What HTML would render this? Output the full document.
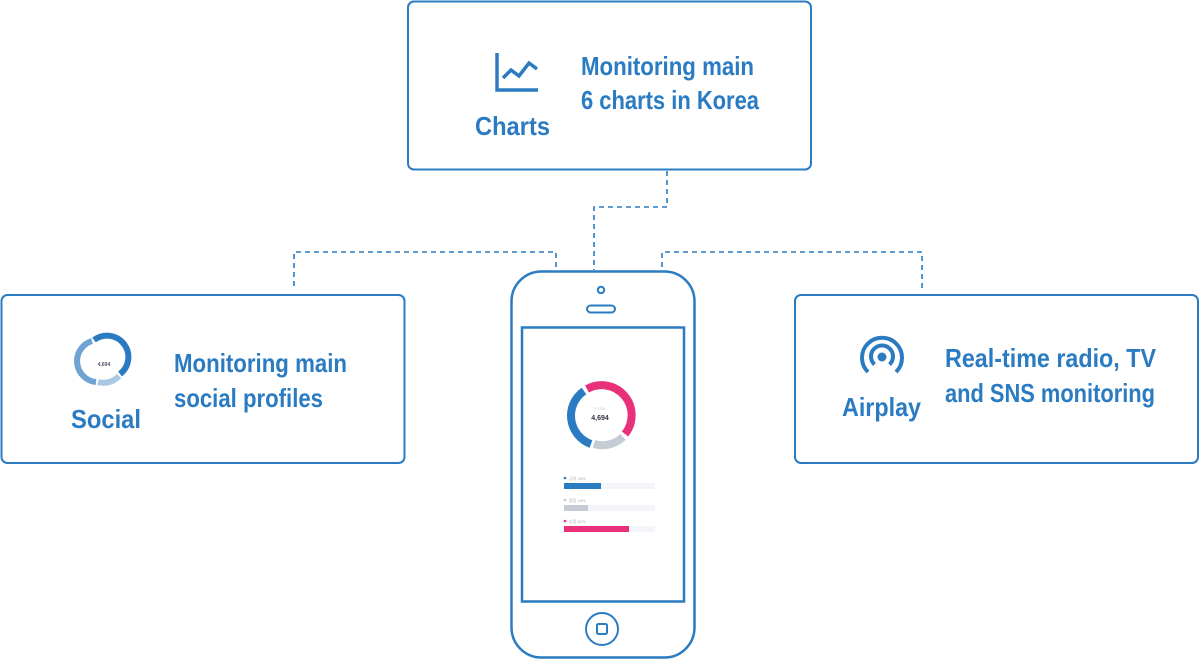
<!DOCTYPE html>
<html><head><style>html,body{margin:0;padding:0;background:#fff;}</style></head>
<body>
<svg width="1200" height="660" viewBox="0 0 1200 660" xmlns="http://www.w3.org/2000/svg" font-family="Liberation Sans, sans-serif" font-weight="bold">
<g fill="none" stroke="#2a7bc1" stroke-width="2">
<rect x="408" y="1.5" width="403" height="168" rx="6"/>
<rect x="1.5" y="295" width="403" height="168" rx="6"/>
<rect x="795" y="295" width="403" height="168" rx="6"/>
<g stroke-dasharray="5,4" stroke-width="1.6">
<polyline points="667,171 667,207 594,207 594,270"/>
<polyline points="556,267 556,252 294,252 294,288"/>
<polyline points="662,267 662,252 922,252 922,288"/>
</g>
<rect x="511.5" y="271.5" width="183" height="386" rx="30" stroke-width="2.5"/>
<rect x="522" y="327.5" width="162" height="274" stroke-width="2.5"/>
<circle cx="601" cy="290" r="3.2"/>
<rect x="587" y="305.5" width="28" height="7" rx="3.5"/>
<circle cx="602" cy="629" r="16"/>
<rect x="597" y="624" width="10" height="10" rx="1.5"/>
<!-- chart icon -->
<polyline points="497,53 497,90 538,90" stroke-width="3.5"/>
<polyline points="503,78 511,70 519,76 529,63 537,69" stroke-width="3.5"/>
<!-- airplay icon -->
<path d="M874.5,364.5 A11,11 0 1 1 889.5,364.5" stroke-width="4"/>
<path d="M868,372 A20,20 0 1 1 896,372" stroke-width="4"/>
</g>
<circle cx="882" cy="357" r="4.5" fill="#2a7bc1"/>
<!-- phone donut -->
<g fill="none" stroke-width="8">
<path d="M587,389 A30,30 0 0 1 625,434" stroke="#e8317a"/>
<path d="M623,437 A30,30 0 0 1 594,444" stroke="#c5ccd3"/>
<path d="M591,444 A30,30 0 0 1 584,391" stroke="#2a7bc1"/>
</g>
<text x="600" y="420" font-size="7" text-anchor="middle" fill="#334">4,694</text>
<text x="600" y="410" font-size="4" text-anchor="middle" fill="#ccd" font-weight="normal">TOTAL</text>
<g>
<rect x="564" y="483" width="91" height="6" fill="#f3f5f8"/><rect x="564" y="483" width="37" height="6" fill="#2a7bc1"/>
<rect x="564" y="505" width="91" height="6" fill="#f3f5f8"/><rect x="564" y="505" width="24" height="6" fill="#c5ccd3"/>
<rect x="564" y="526" width="91" height="6" fill="#f3f5f8"/><rect x="564" y="526" width="65" height="6" fill="#e8317a"/>
<circle cx="565" cy="478" r="1.3" fill="#2a7bc1"/><circle cx="565" cy="500" r="1.3" fill="#c5ccd3"/><circle cx="565" cy="521" r="1.3" fill="#e8317a"/>
<text x="569" y="480" font-size="4" fill="#aab" font-weight="normal">긍정 28%</text>
<text x="569" y="502" font-size="4" fill="#aab" font-weight="normal">중립 10%</text>
<text x="569" y="523" font-size="4" fill="#aab" font-weight="normal">부정 52%</text>
</g>
<!-- social donut -->
<g fill="none" stroke-width="6">
<path d="M94,340 A21,21 0 0 1 120,374" stroke="#2a7bc1"/>
<path d="M119,376 A21,21 0 0 1 98,382" stroke="#a9c8e4"/>
<path d="M96,382 A21,21 0 0 1 92,341" stroke="#6fa3d4"/>
</g>
<text x="104" y="366" font-size="5" text-anchor="middle" fill="#556">4,694</text>
<g fill="#2a7bc1" font-size="26" lengthAdjust="spacingAndGlyphs">
<text x="581" y="75" textLength="173" lengthAdjust="spacingAndGlyphs">Monitoring main</text>
<text x="581" y="109" textLength="178" lengthAdjust="spacingAndGlyphs">6 charts in Korea</text>
<text x="475" y="135" textLength="75" lengthAdjust="spacingAndGlyphs">Charts</text>
<text x="174" y="372" textLength="173" lengthAdjust="spacingAndGlyphs">Monitoring main</text>
<text x="174" y="407" textLength="149" lengthAdjust="spacingAndGlyphs">social profiles</text>
<text x="71" y="428" textLength="70" lengthAdjust="spacingAndGlyphs">Social</text>
<text x="945" y="367" textLength="211" lengthAdjust="spacingAndGlyphs">Real-time radio, TV</text>
<text x="945" y="402" textLength="210" lengthAdjust="spacingAndGlyphs">and SNS monitoring</text>
<text x="842" y="416" textLength="79" lengthAdjust="spacingAndGlyphs">Airplay</text>
</g>
</svg>
</body></html>
